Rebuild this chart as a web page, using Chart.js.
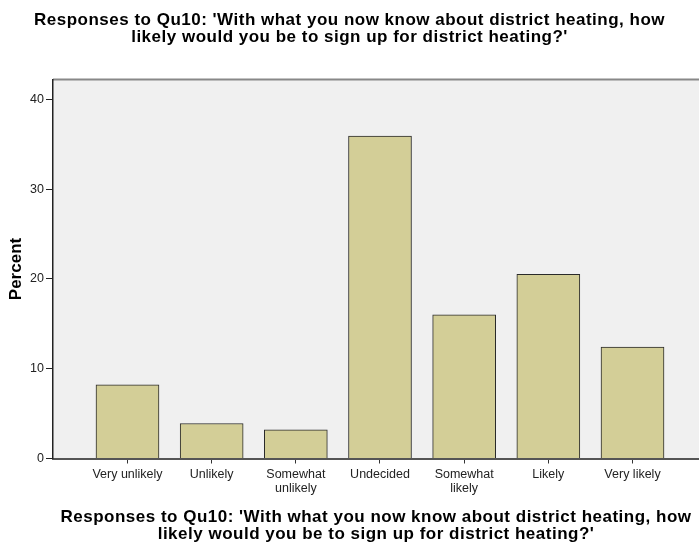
<!DOCTYPE html>
<html>
<head>
<meta charset="utf-8">
<script src="https://cdn.jsdelivr.net/npm/chart.js@4"></script>
<style>
html,body{margin:0;padding:0;background:#fff;}
#wrap{width:699px;height:545px;position:relative;}
</style>
</head>
<body>
<div id="wrap"><canvas id="c" width="699" height="545"></canvas></div>
<script>
const categories = [["Very unlikely"], ["Unlikely"], ["Somewhat", "unlikely"], ["Undecided"], ["Somewhat", "likely"], ["Likely"], ["Very likely"]];
const percentValues = [8.2, 3.9, 3.2, 35.9, 16.0, 20.5, 12.4];
const yTicks = [0, 10, 20, 30, 40];
const titleLines = ["Responses to Qu10: 'With what you now know about district heating, how", "likely would you be to sign up for district heating?'"];

const FONT = "'Liberation Sans', Arial, sans-serif";
const TITLE_SPACING = '0.5px';

const bgPlugin = {
  id: 'bg',
  beforeDraw(chart) {
    const {ctx, chartArea: a} = chart;
    ctx.save();
    ctx.fillStyle = '#f0f0f0';
    ctx.fillRect(a.left, a.top, a.right - a.left, a.bottom - a.top);
    ctx.strokeStyle = '#888';
    ctx.lineWidth = 2;
    ctx.beginPath();
    ctx.moveTo(a.left, a.top);
    ctx.lineTo(a.right, a.top);
    ctx.stroke();
    ctx.restore();
  }
};

// widen the bold titles slightly (letter spacing) like the original rendering
const spacingPlugin = {
  id: 'titleSpacing',
  afterLayout(chart) {
    const wrap = (obj, name) => {
      if (!obj || obj['_sp_' + name]) return;
      const orig = obj[name];
      obj[name] = function (...args) {
        const c = this.ctx;
        c.save();
        if ('letterSpacing' in c) c.letterSpacing = TITLE_SPACING;
        orig.apply(this, args);
        c.restore();
      };
      obj['_sp_' + name] = true;
    };
    wrap(chart.titleBlock, 'draw');
    wrap(chart.scales.x, 'drawTitle');
  }
};

new Chart(document.getElementById('c'), {
  type: 'bar',
  data: {
    datasets: [{
      data: percentValues.map((v, i) => ({x: i, y: v})),
      backgroundColor: '#d3ce97',
      borderColor: '#2a2a2a',
      borderWidth: 1,
      barThickness: 63
    }]
  },
  plugins: [bgPlugin, spacingPlugin],
  options: {
    responsive: false,
    animation: false,
    layout: {padding: 0},
    plugins: {
      legend: {display: false},
      tooltip: {enabled: false},
      title: {
        display: true,
        text: titleLines,
        color: '#000',
        font: {family: FONT, size: 17, weight: 'bold', lineHeight: '17px'},
        padding: {top: 12, bottom: 33.5}
      }
    },
    scales: {
      x: {
        type: 'linear',
        offset: false,
        min: -0.885,
        max: 6.79,
        afterBuildTicks(axis) {
          axis.ticks = categories.map((c, i) => ({value: i}));
        },
        afterFit(axis) { axis.height = 86.5; },
        ticks: {
          autoSkip: false,
          maxRotation: 0,
          color: '#222',
          font: {family: FONT, size: 12.5, lineHeight: 1.1},
          padding: 4,
          callback: (v) => categories[v]
        },
        grid: {offset: false, drawOnChartArea: false, drawTicks: true, tickLength: 5, tickColor: '#333'},
        border: {color: '#555', width: 2},
        title: {
          display: true,
          text: titleLines,
          color: '#000',
          font: {family: FONT, size: 17, weight: 'bold', lineHeight: '17px'},
          padding: {top: 0, bottom: 2.5}
        }
      },
      y: {
        min: 0,
        max: 42.2,
        afterBuildTicks(axis) {
          axis.ticks = yTicks.map(v => ({value: v}));
        },
        afterFit(axis) { axis.width = 53; },
        ticks: {
          color: '#222',
          font: {family: FONT, size: 12.5},
          padding: 2
        },
        grid: {drawOnChartArea: false, drawTicks: true, tickLength: 7, tickColor: '#222'},
        border: {color: '#222', width: 1.5},
        title: {
          display: true,
          text: 'Percent',
          color: '#000',
          font: {family: FONT, size: 17, weight: 'bold'},
          padding: {top: 6, bottom: 0}
        }
      }
    }
  }
});
</script>
</body>
</html>
